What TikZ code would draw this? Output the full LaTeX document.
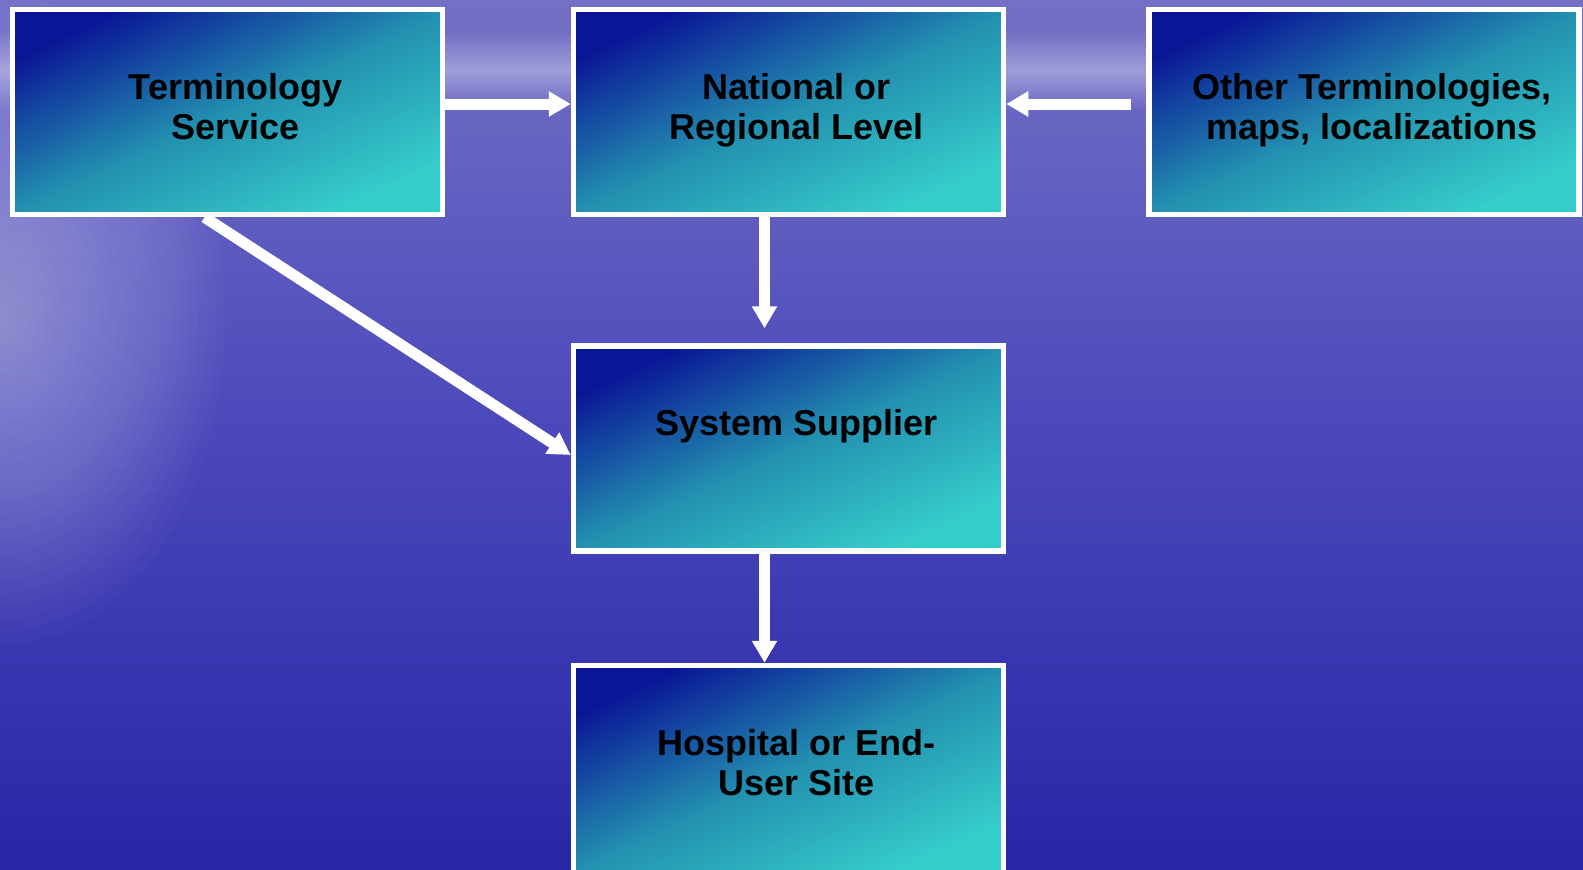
\documentclass[tikz,border=0pt]{standalone}
\usepackage{fontspec}
\setmainfont{Liberation Sans}
\usetikzlibrary{arrows.meta,fadings}

\definecolor{seatop}{HTML}{7470C6}
\definecolor{seamid}{HTML}{4A48BA}
\definecolor{seabot}{HTML}{2826A6}
\definecolor{boxdark}{HTML}{0A1696}
\definecolor{boxmid}{HTML}{2390B0}
\definecolor{boxcyan}{HTML}{36CECB}

\tikzfading[name=haze, top color=transparent!100, bottom color=transparent!100, middle color=transparent!0]

\begin{document}
\begin{tikzpicture}[x=1pt, y=-1pt,
    box/.style={draw=white, line width=5.5pt, minimum width=430pt, minimum height=205pt,
        top color=boxdark, bottom color=boxcyan, middle color=boxmid, shading angle=25},
    boxtext/.style={anchor=north, align=center, inner sep=0pt,
        font=\bfseries\fontsize{36}{40}\selectfont},
    flow/.style={draw=white, line width=11pt, -{Triangle[width=24pt,length=22pt]}}]

    \useasboundingbox (0,0) rectangle (1583,870);
    \clip (0,0) rectangle (1583,870);

    % Sea background
    \shade[top color=seatop, bottom color=seabot, middle color=seamid] (0,0) rectangle (1583,870);
    \foreach \k in {1,...,25}
        \fill[white, opacity=0.02] (0,320) ellipse ({9*\k} and {13*\k});
    \fill[white, opacity=0.35, path fading=haze] (0,30) rectangle (1583,110);

    % Boxes
    \node[box] (ts) at (227.5,112) {};
    \node[box] (nl) at (788.5,112) {};
    \node[box] (ot) at (1364,112) {};
    \node[box] (ss) at (788.5,448.5) {};
    \node[box, minimum height=210pt] (hs) at (788.5,770.5) {};

    % Box labels
    \node[boxtext] (tstext) at ([xshift=8pt,yshift=-66pt]ts.north) {Terminology\\Service};
    \node[boxtext] (nltext) at ([xshift=8pt,yshift=-66pt]nl.north) {National or\\Regional Level};
    \node[boxtext] (ottext) at ([xshift=8pt,yshift=-66pt]ot.north) {Other Terminologies,\\maps, localizations};
    \node[boxtext] (sstext) at ([xshift=8pt,yshift=-66pt]ss.north) {System Supplier};
    \node[boxtext] (hstext) at ([xshift=8pt,yshift=-66pt]hs.north) {Hospital or End-\\User Site};

    % Arrows
    \draw[flow] ([yshift=8pt]ts.east) -- ([yshift=8pt]nl.west);
    \draw[flow] ([xshift=-15pt,yshift=8pt]ot.west) -- ([yshift=8pt]nl.east);
    \draw[flow, shorten >=15pt] ([xshift=-24pt]nl.south) -- ([xshift=-24pt]ss.north);
    \draw[flow] ([xshift=-24pt]ss.south) -- ([xshift=-24pt]hs.north);
    \draw[flow] ([xshift=-23pt]ts.south) -- ([yshift=-6.5pt]ss.west);

\end{tikzpicture}
\end{document}
